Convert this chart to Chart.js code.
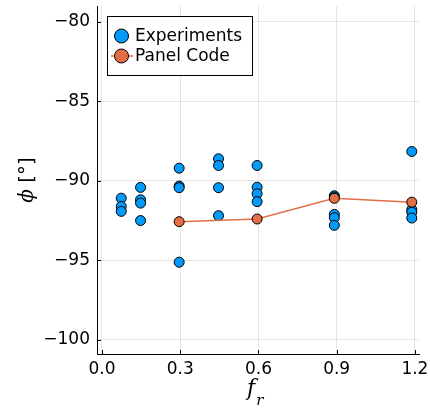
<!DOCTYPE html>
<html>
<head>
<meta charset="utf-8">
<script src="https://cdn.jsdelivr.net/npm/chart.js@4.4.1/dist/chart.umd.min.js"></script>
<style>
  html, body { margin: 0; padding: 0; background: #fff; }
  #wrap { width: 430px; height: 411px; }
</style>
</head>
<body>
<div id="wrap"><canvas id="chart" width="430" height="411"></canvas></div>
<script>
// values
const expFr = [0.074, 0.074, 0.074, 0.148, 0.148, 0.148, 0.148, 0.296, 0.296, 0.296, 0.296,
  0.447, 0.447, 0.447, 0.447, 0.595, 0.595, 0.595, 0.595, 0.891, 0.891, 0.891, 0.891, 0.891,
  1.188, 1.188, 1.188, 1.188]
const expPhi = [-91.1, -91.62, -91.93, -90.42, -91.2, -91.41, -92.51, -89.21, -90.34, -90.44, -95.13,
  -88.62, -89.04, -90.44, -92.2, -89.04, -90.41, -90.82, -91.32, -90.95, -91.03, -92.12, -92.33, -92.81,
  -88.16, -91.81, -91.98, -92.35]
const panelFr = [0.296, 0.595, 0.891, 1.188]
const panelPhi = [-92.58, -92.41, -91.11, -91.35]
const xTicks = [0, 0.3, 0.6, 0.9, 1.2]
const yTicks = [-100, -95, -90, -85, -80]
const seriesNames = ['Experiments', 'Panel Code']

const blue = '#009AFA'
const orange = '#E26F46'
const tickFont = { family: 'DejaVu Sans', size: 17 }

const toPoints = (xs, ys) => xs.map((x, i) => ({ x, y: ys[i] }))

// keep the plot box fixed, no extra room for half tick labels
const fixBox = (size) => (s) => {
  if (s.isHorizontal()) s.height = size
  else s.width = size
  s.paddingTop = s.paddingBottom = s.paddingLeft = s.paddingRight = 0
}

// Plots.jl style ticks pointing into the plot
const innerTicks = {
  id: 'innerTicks',
  afterDatasetsDraw(chart) {
    const { ctx, chartArea: a, scales } = chart
    ctx.save()
    ctx.strokeStyle = '#000'
    ctx.lineWidth = 1
    ctx.beginPath()
    xTicks.forEach((v) => {
      const px = Math.round(scales.x.getPixelForValue(v)) + 0.5
      ctx.moveTo(px, a.bottom)
      ctx.lineTo(px, a.bottom - 4)
    })
    yTicks.forEach((v) => {
      const py = Math.round(scales.y.getPixelForValue(v)) + 0.5
      ctx.moveTo(a.left, py)
      ctx.lineTo(a.left + 4, py)
    })
    ctx.stroke()
    ctx.restore()
  },
}

const legendBox = {
  id: 'legendBox',
  afterDraw(chart) {
    const { ctx } = chart
    ctx.save()
    ctx.fillStyle = '#fff'
    ctx.strokeStyle = '#000'
    ctx.lineWidth = 1
    ctx.fillRect(107.5, 16.5, 145, 59)
    ctx.strokeRect(107.5, 16.5, 145, 59)

    const rows = [36, 56]
    chart.data.datasets.forEach((ds, i) => {
      const y = rows[i]
      if (ds.showLine) {
        ctx.strokeStyle = ds.borderColor
        ctx.lineWidth = 1.5
        ctx.beginPath()
        ctx.moveTo(111, y)
        ctx.lineTo(133, y)
        ctx.stroke()
      }
      ctx.beginPath()
      ctx.arc(121.5, y, 7, 0, Math.PI * 2)
      ctx.fillStyle = ds.pointBackgroundColor
      ctx.fill()
      ctx.strokeStyle = '#000'
      ctx.lineWidth = 1
      ctx.stroke()
      ctx.fillStyle = '#000'
      ctx.font = '17px "DejaVu Sans"'
      ctx.textBaseline = 'middle'
      ctx.textAlign = 'left'
      ctx.fillText(ds.label, 135, y + 1)
    })
    ctx.restore()
  },
}

const axisTitles = {
  id: 'axisTitles',
  afterDraw(chart) {
    const { ctx, chartArea: a } = chart
    ctx.save()
    ctx.fillStyle = '#000'
    ctx.textBaseline = 'alphabetic'

    // x: f_r
    const cx = (a.left + a.right) / 2
    ctx.font = 'italic 22px "DejaVu Serif"'
    const fw = ctx.measureText('f').width
    ctx.textAlign = 'left'
    ctx.fillText('f', cx - 11, 395)
    ctx.font = 'italic 15px "DejaVu Serif"'
    ctx.fillText('r', cx - 11 + fw + 1, 405)

    // y: ϕ [°]
    const cy = (a.top + a.bottom) / 2
    ctx.translate(33, cy)
    ctx.rotate(-Math.PI / 2)
    ctx.font = 'italic 20px "DejaVu Serif"'
    const pw = ctx.measureText('ϕ').width
    ctx.font = '20px "DejaVu Sans"'
    const bw = ctx.measureText(' [°]').width
    const start = -(pw + bw) / 2
    ctx.font = 'italic 20px "DejaVu Serif"'
    ctx.fillText('ϕ', start, 0)
    ctx.font = '20px "DejaVu Sans"'
    ctx.fillText(' [°]', start + pw, 0)
    ctx.restore()
  },
}

new Chart(document.getElementById('chart'), {
  type: 'scatter',
  data: {
    datasets: [
      {
        label: seriesNames[0],
        data: toPoints(expFr, expPhi),
        pointBackgroundColor: blue,
        pointBorderColor: '#000',
        pointBorderWidth: 1,
        pointRadius: 5,
        showLine: false,
        order: 2,
      },
      {
        label: seriesNames[1],
        data: toPoints(panelFr, panelPhi),
        borderColor: orange,
        borderWidth: 1.5,
        pointBackgroundColor: orange,
        pointBorderColor: '#000',
        pointBorderWidth: 1,
        pointRadius: 5,
        showLine: true,
        order: 1,
      },
    ],
  },
  options: {
    responsive: false,
    animation: false,
    layout: { padding: { top: 5, right: 11, left: 0, bottom: 0 } },
    plugins: {
      legend: { display: false },
      tooltip: { enabled: false },
    },
    scales: {
      x: {
        type: 'linear',
        min: -0.019,
        max: 1.2157,
        afterBuildTicks: (s) => (s.ticks = xTicks.map((v) => ({ value: v }))),
        afterFit: fixBox(57),
        grid: { color: 'rgba(0,0,0,0.1)', drawTicks: false },
        border: { display: true, color: '#000', width: 1 },
        ticks: {
          padding: 5,
          color: '#000',
          font: tickFont,
          maxRotation: 0,
          callback: (v) => v.toFixed(1),
        },
      },
      y: {
        type: 'linear',
        min: -100.91,
        max: -79.0,
        afterBuildTicks: (s) => (s.ticks = yTicks.map((v) => ({ value: v }))),
        afterFit: fixBox(97),
        grid: { color: 'rgba(0,0,0,0.1)', drawTicks: false },
        border: { display: true, color: '#000', width: 1 },
        ticks: {
          padding: 7,
          color: '#000',
          font: tickFont,
          callback: (v) => String(v).replace('-', '\u2212'),
        },
      },
    },
  },
  plugins: [innerTicks, legendBox, axisTitles],
})
</script>
</body>
</html>
